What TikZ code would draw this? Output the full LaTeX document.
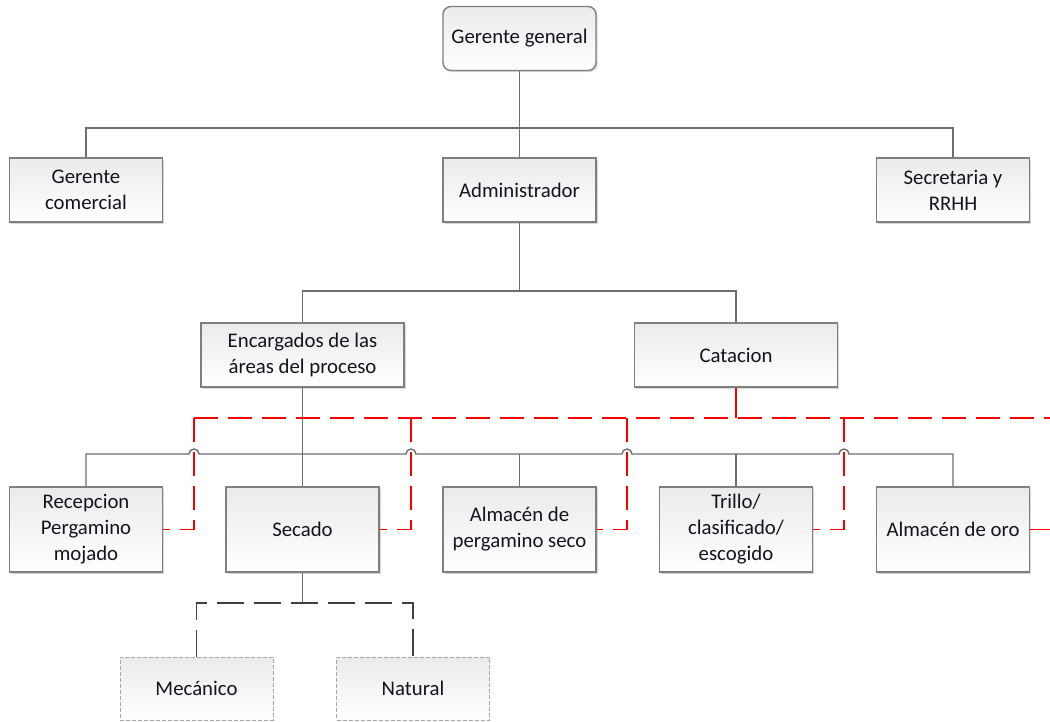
\documentclass[tikz,border=0pt]{standalone}
\usepackage{fontspec}
\setmainfont{Carlito}
\usetikzlibrary{shadows}
\definecolor{boxline}{HTML}{7F7F7F}
\definecolor{wire}{HTML}{6E6E6E}
\definecolor{inktext}{HTML}{141420}
\begin{document}
\begin{tikzpicture}[x=1pt,y=-1pt,
  unit/.style={draw=boxline, line width=1.4pt, top color=black!8, bottom color=white,
    text=inktext, align=center, inner sep=0pt,
    font=\fontsize{20.8}{26}\selectfont,
    drop shadow={shadow xshift=1.6pt, shadow yshift=-1.6pt, fill=black!22, opacity=0.7}},
  wide/.style={unit, minimum width=203pt, minimum height=64pt},
  std/.style={unit, minimum width=153pt, minimum height=64pt},
  tall/.style={unit, minimum width=153pt, minimum height=85pt},
  optbox/.style={draw=black!35, dashed, dash pattern=on 4pt off 2pt, line width=0.8pt,
    top color=black!8, bottom color=white, text=inktext, inner sep=0pt,
    minimum width=153pt, minimum height=63pt, font=\fontsize{20.8}{26}\selectfont},
  wireline/.style={draw=wire, line width=1.4pt},
  flow/.style={draw=red, line width=1.8pt, dash pattern=on 24pt off 10pt},
  optline/.style={draw=black!75, line width=1.6pt, dash pattern=on 27pt off 10pt}]
\useasboundingbox (0,0) rectangle (1050,721);

% Management levels
\node[std, rounded corners=8pt] (gg) at (519.5,38.5) {Gerente general};
\node[std] (gc)  at (86,190)    {Gerente\\comercial};
\node[std] (adm) at (519.5,190) {Administrador};
\node[std] (srh) at (953,190)   {Secretaria y\\RRHH};
\node[wide] (enc) at (302.5,355) {Encargados de las\\áreas del proceso};
\node[wide] (cat) at (736,355)   {Catacion};

% Process stages
\node[tall] (rec) at (86,529.5)    {Recepcion\\Pergamino\\mojado};
\node[tall] (sec) at (302.5,529.5) {Secado};
\node[tall] (alm) at (519.5,529.5) {Almacén de\\pergamino seco};
\node[tall] (tri) at (736,529.5)   {Trillo/\\clasificado/\\escogido};
\node[tall] (oro) at (953,529.5)   {Almacén de oro};

% Drying methods
\node[optbox] (mec) at (196.5,688.5) {Mecánico};
\node[optbox] (nat) at (413,688.5)   {Natural};

% Junction points
\coordinate (b1) at (519.5,128);
\coordinate (b2) at (519.5,291);
\coordinate (r0) at (194,418);
\coordinate (r1) at (411,418);
\coordinate (r2) at (627,418);
\coordinate (r3) at (844,418);
\coordinate (rend) at (1050,418);
\coordinate (outR) at (1050,529.5);
\coordinate (s1) at (302.5,603);

% Hierarchy connectors
\draw[wireline] (gg.south) -- (adm.north);
\draw[wireline] (gc.north) |- (b1) -| (srh.north);
\draw[wireline] (adm.south) -- (b2);
\draw[wireline] (enc.north) |- (b2) -| (cat.north);
\draw[wireline] (enc.south) -- (sec.north);
% Bus to the process stages, hopping over the red flow lines
\draw[wireline] (rec.north) |- ([xshift=-5pt]r0 |- 0,454)
  arc[start angle=180, end angle=0, radius=5pt]
  -- ([xshift=-5pt]r1 |- 0,454)
  arc[start angle=180, end angle=0, radius=5pt]
  -- ([xshift=-5pt]r2 |- 0,454)
  arc[start angle=180, end angle=0, radius=5pt]
  -- ([xshift=-5pt]r3 |- 0,454)
  arc[start angle=180, end angle=0, radius=5pt]
  -| (oro.north);
\draw[wireline] (alm.north) -- (alm.north |- 0,454);
\draw[wireline] (tri.north) -- (tri.north |- 0,454);

% Quality flow from Catacion
\draw[draw=red, line width=1.8pt] (cat.south) -- ++(0,12);
\draw[flow] (cat.south) ++(0,12) -- (cat.south |- r0);
\draw[flow] (r0) -- (rend);
\draw[flow] (r0) |- (rec.east);
\draw[flow] (r1) |- (sec.east);
\draw[flow] (r2) |- (alm.east);
\draw[flow] (r3) |- (tri.east);
\draw[flow] (oro.east) -- (outR);

% Drying branches
\draw[wireline] (sec.south) -- (s1);
\draw[optline] (mec.north) |- (s1) -| (nat.north);
\end{tikzpicture}
\end{document}
